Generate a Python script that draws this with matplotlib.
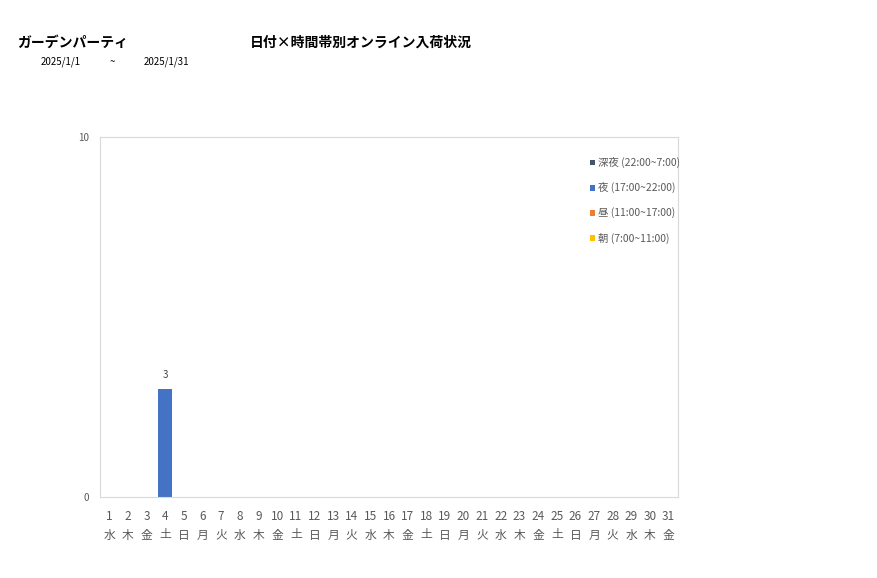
import matplotlib.pyplot as plt
import numpy as np

plt.rcParams['font.family'] = ['Noto Sans CJK JP', 'DejaVu Sans']

days = list(range(1, 32))
weekdays = ['水', '木', '金', '土', '日', '月', '火'] * 5
weekdays = weekdays[:31]
tick_labels = [f'{d}\n{w}' for d, w in zip(days, weekdays)]

asa = [0] * 31        # 朝 (7:00~11:00)
hiru = [0] * 31       # 昼 (11:00~17:00)
yoru = [0, 0, 0, 3] + [0] * 27   # 夜 (17:00~22:00)
shinya = [0] * 31     # 深夜 (22:00~7:00)

series = [
    ('朝 (7:00~11:00)', asa, '#FFC000'),
    ('昼 (11:00~17:00)', hiru, '#ED7D31'),
    ('夜 (17:00~22:00)', yoru, '#4472C4'),
    ('深夜 (22:00~7:00)', shinya, '#44546A'),
]

fig = plt.figure(figsize=(8.77, 5.78), dpi=100)
ax = fig.add_axes([100 / 877, 1 - 497 / 578, 578 / 877, 360 / 578])

x = np.arange(len(days))
bottom = np.zeros(len(days))
handles = []
for name, vals, color in series:
    vals = np.array(vals, dtype=float)
    b = ax.bar(x, vals, bottom=bottom, width=0.75, color=color, label=name)
    handles.append(b)
    bottom += vals

totals = bottom
for i, t in enumerate(totals):
    if t > 0:
        ax.text(x[i], t + 0.25, f'{int(t)}', ha='center', va='bottom',
                fontsize=7, color='#404040')

ax.set_xlim(-0.5, len(days) - 0.5)
ax.set_ylim(0, 10)
ax.set_yticks([0, 10])
ax.set_xticks(x)
ax.set_xticklabels(tick_labels, fontsize=8.5, color='#595959', linespacing=1.6)
ax.tick_params(axis='y', labelsize=7, colors='#595959', length=0, pad=8)
ax.tick_params(axis='x', length=0, pad=9)
for s in ax.spines.values():
    s.set_color('#D9D9D9')

leg = ax.legend(handles[::-1], [s[0] for s in series][::-1],
                loc='upper right', bbox_to_anchor=(1.02, 0.97),
                frameon=False, fontsize=7.5, labelcolor='#595959',
                handlelength=0.5, handleheight=0.5, handletextpad=0.3,
                labelspacing=1.35)

fig.text(17 / 877, 1 - 43 / 578, 'ガーデンパーティ', fontsize=10, fontweight='bold',
         va='center', ha='left', color='#000000')
fig.text(250 / 877, 1 - 43 / 578, '日付×時間帯別オンライン入荷状況', fontsize=10,
         fontweight='bold', va='center', ha='left', color='#000000')
fig.text(41 / 877, 1 - 62 / 578, '2025/1/1', fontsize=7, va='center', ha='left')
fig.text(110 / 877, 1 - 62 / 578, '~', fontsize=7, va='center', ha='left')
fig.text(144 / 877, 1 - 62 / 578, '2025/1/31', fontsize=7, va='center', ha='left')

fig.savefig('out.png', dpi=100)
